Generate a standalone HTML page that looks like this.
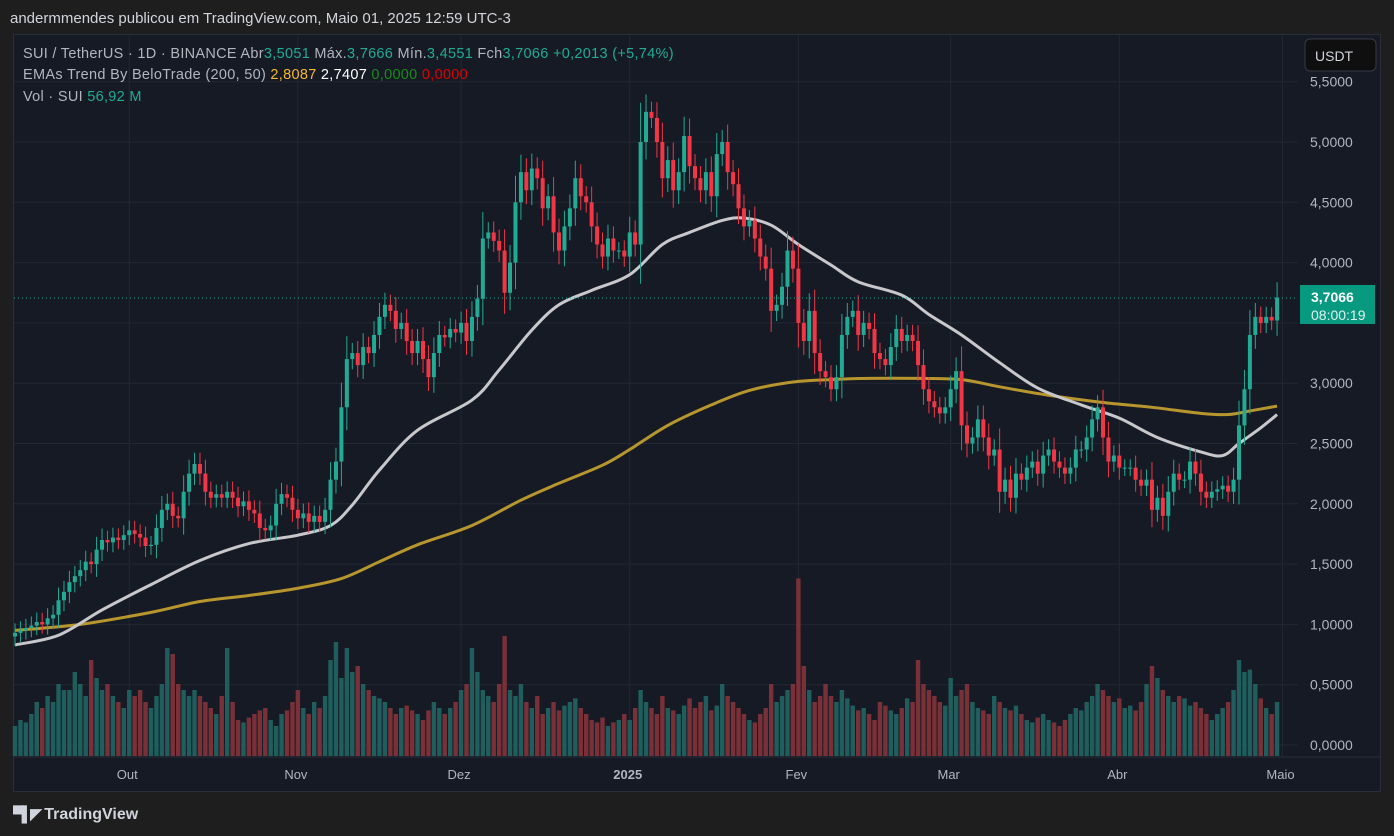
<!DOCTYPE html>
<html><head><meta charset="utf-8">
<style>
html,body{margin:0;padding:0;background:#1e1e1e;width:1394px;height:836px;overflow:hidden;font-family:"Liberation Sans",sans-serif;}
#hdr{position:absolute;left:10px;top:10px;color:#d1d4dc;font-size:15px;}
#panel{position:absolute;left:13px;top:34px;width:1368px;height:758px;background:#161a25;border:1px solid #2a2e39;box-sizing:border-box;}
#foot{position:absolute;left:13px;top:805px;color:#d1d4dc;font-size:16px;font-weight:bold;}
svg text{font-family:"Liberation Sans",sans-serif;}
</style></head><body>
<div id="hdr">andermmendes publicou em TradingView.com, Maio 01, 2025 12:59 UTC-3</div>
<div id="panel"></div>
<svg id="chart" width="1394" height="836" style="position:absolute;left:0;top:0"></svg>
<div id="foot"><span style="font-size:15px;letter-spacing:-2px">▀▌◤</span> TradingView</div>
<script>
const closes=[0.93,0.95,0.97,0.99,1.02,1.00,1.05,1.08,1.20,1.27,
1.35,1.40,1.45,1.52,1.50,1.62,1.70,1.68,1.72,1.70,
1.74,1.78,1.75,1.72,1.65,1.66,1.80,1.95,2.00,1.90,
1.88,2.10,2.25,2.33,2.25,2.10,2.05,2.08,2.05,2.10,
2.05,1.98,2.02,1.95,1.92,1.80,1.78,1.82,2.00,2.08,
2.05,1.95,1.88,1.92,1.85,1.90,1.85,1.95,2.20,2.35,
2.80,3.20,3.25,3.15,3.30,3.25,3.40,3.55,3.65,3.60,
3.45,3.50,3.35,3.25,3.35,3.20,3.05,3.25,3.40,3.38,
3.45,3.42,3.50,3.35,3.55,3.70,4.20,4.25,4.18,4.10,
3.75,4.00,4.50,4.75,4.60,4.78,4.70,4.45,4.55,4.25,
4.10,4.30,4.45,4.70,4.55,4.50,4.30,4.15,4.05,4.20,
4.10,4.10,4.05,4.25,4.15,5.00,5.25,5.20,5.00,4.70,
4.85,4.60,4.75,5.05,4.80,4.70,4.60,4.75,4.55,4.90,
5.00,4.75,4.65,4.45,4.30,4.35,4.20,4.05,3.95,3.60,
3.65,3.80,4.10,3.95,3.50,3.35,3.60,3.25,3.10,3.05,
2.95,3.05,3.40,3.55,3.60,3.40,3.50,3.45,3.25,3.20,
3.15,3.30,3.45,3.35,3.40,3.35,3.15,2.95,2.85,2.80,
2.75,2.80,2.95,3.10,2.65,2.50,2.55,2.70,2.55,2.40,
2.45,2.10,2.20,2.05,2.25,2.20,2.30,2.35,2.25,2.40,
2.45,2.35,2.30,2.25,2.30,2.45,2.45,2.55,2.70,2.80,
2.55,2.35,2.40,2.30,2.30,2.30,2.20,2.15,2.20,1.95,
2.05,1.90,2.10,2.25,2.20,2.20,2.35,2.25,2.10,2.05,
2.10,2.12,2.15,2.10,2.20,2.65,2.95,3.40,3.55,3.50,
3.55,3.52,3.71];
const volumes=[25,30,28,35,45,40,50,45,60,55,
55,70,60,50,80,65,55,60,50,45,
40,55,50,55,45,40,50,60,90,85,
60,55,50,55,50,45,40,35,50,90,
45,30,28,32,35,38,40,30,25,35,
38,45,55,40,35,45,40,50,80,95,
65,90,70,75,60,55,50,48,45,40,
35,40,42,38,35,30,38,45,40,35,
40,45,55,60,90,70,55,50,45,60,
100,55,50,60,45,40,50,35,40,45,
38,42,45,48,40,35,30,28,32,25,
28,30,35,30,40,55,45,40,35,50,
40,38,35,42,48,40,45,50,38,42,
60,50,45,40,35,30,28,35,40,60,
45,50,55,60,148,75,55,45,50,60,
50,45,55,48,42,38,40,35,30,45,
42,38,35,40,48,45,80,60,55,50,
45,42,65,50,55,60,45,40,38,35,
50,45,40,38,42,35,30,28,32,35,
30,28,25,30,35,40,38,45,50,60,
55,50,45,48,40,42,38,45,60,75,
65,55,50,45,50,48,42,45,40,35,
30,35,40,45,55,80,70,72,60,48,
40,35,45];
const ema50Idx=[0,8,16,25,34,43,52,58,62,67,74,84,89,95,100,106,113,119,124,130,134,139,144,150,155,163,168,174,181,188,196,203,210,218,222,225,229,232];
const ema50Val=[0.83,0.91,1.12,1.33,1.53,1.67,1.74,1.82,1.99,2.28,2.61,2.86,3.11,3.44,3.65,3.77,3.90,4.15,4.25,4.35,4.37,4.31,4.15,3.98,3.84,3.73,3.57,3.40,3.17,2.96,2.82,2.71,2.55,2.43,2.40,2.50,2.63,2.74];
const ema200Idx=[0,12,25,34,43,52,60,67,74,84,93,100,108,113,120,128,135,143,150,157,166,174,181,190,200,209,218,223,227,232];
const ema200Val=[0.95,1.00,1.10,1.19,1.24,1.30,1.38,1.52,1.66,1.82,2.03,2.17,2.32,2.45,2.65,2.82,2.94,3.01,3.03,3.04,3.04,3.03,2.97,2.90,2.84,2.80,2.75,2.74,2.77,2.81];
const priceTicks=[0,0.5,1,1.5,2,2.5,3,3.5,4,4.5,5,5.5];
const priceTickLabels=["0,0000","0,5000","1,0000","1,5000","2,0000","2,5000","3,0000","3,5000","4,0000","4,5000","5,0000","5,5000"];
const monthIdx=[21,52,82,113,144,172,203,233];
const monthLabels=["Out","Nov","Dez","2025","Fev","Mar","Abr","Maio"];
const lastPrice=3.7066;

const NS="http://www.w3.org/2000/svg";
const svg=document.getElementById('chart');
const xS=i=>15+i*5.44;
const yS=v=>745-v*120.6;
const vS=v=>v*1.2;
function mk(tag,attrs,parent){const e=document.createElementNS(NS,tag);for(const k in attrs)e.setAttribute(k,attrs[k]);(parent||svg).appendChild(e);return e;}
priceTicks.forEach((t,i)=>{
 const g=mk('line',{x1:14,x2:1298,y1:yS(t),y2:yS(t),stroke:'#232733','stroke-width':1});
 
 
 if(t===3.5)return;
 const tx=mk('text',{x:1310,y:yS(t)+5,fill:'#b2b5be','font-size':14});
 tx.textContent=priceTickLabels[i];
 
 
});
monthIdx.forEach((m,i)=>{
 const g=mk('line',{x1:xS(m),x2:xS(m),y1:35,y2:757,stroke:'#232733','stroke-width':1});
 
 
 const tx=mk('text',{x:xS(m)-2,y:779,fill:'#b2b5be','font-size':13,'text-anchor':'middle','font-weight':i===3?'bold':'normal'});
 tx.textContent=monthLabels[i];
 
 
});
mk('line',{x1:14,x2:1380,y1:757,y2:757,stroke:'#2a2e39'});
closes.forEach((c,i)=>{
 const o=i?closes[i-1]:c-0.02;const up=c>=o;
 const h=vS(volumes[i]);
 const r=mk('rect',{x:xS(i)-2.2,y:756-h,width:4.4,height:h,fill:up?'#1f5e5c':'#7a3037'});
 
 
});
function line(idx,val,col,w,name){
 const P=idx.map((d,k)=>[xS(d),yS(val[k])]);
 let d='M'+P[0][0]+','+P[0][1];
 for(let k=0;k<P.length-1;k++){
  const p0=P[k-1]||P[k],p1=P[k],p2=P[k+1],p3=P[k+2]||P[k+1];
  const c1=[p1[0]+(p2[0]-p0[0])/6,p1[1]+(p2[1]-p0[1])/6];
  const c2=[p2[0]-(p3[0]-p1[0])/6,p2[1]-(p3[1]-p1[1])/6];
  d+=' C'+c1.join(',')+' '+c2.join(',')+' '+p2.join(',');
 }
 const p=mk('path',{d:d,fill:'none',stroke:col,'stroke-width':w,'stroke-linejoin':'round'});
 
 
}
line(ema200Idx,ema200Val,'#b8962e',3,'ema-200-line');
line(ema50Idx,ema50Val,'#c8c8cc',3,'ema-50-line');
closes.forEach((c,i)=>{
 const o=i?closes[i-1]:0.9;const up=c>=o;const col=up?'#22ab94':'#f23645';
 const hi=Math.max(o,c)+0.07+Math.abs(c-o)*0.3, lo=Math.min(o,c)-0.07-Math.abs(c-o)*0.3;
 const wk=mk('line',{x1:xS(i),x2:xS(i),y1:yS(hi),y2:yS(lo),stroke:col,'stroke-width':1});
 
 
 const top=yS(Math.max(o,c)),bh=Math.max(1,Math.abs(yS(o)-yS(c)));
 const b=mk('rect',{x:xS(i)-2,y:top,width:4,height:bh,fill:col});
 
 
});
mk('line',{x1:14,x2:1298,y1:yS(lastPrice),y2:yS(lastPrice),stroke:'#22ab94','stroke-dasharray':'1 3'});
const lb=mk('rect',{x:1300,y:yS(lastPrice)-13,width:75,height:39,fill:'#089981'});


const t1=mk('text',{x:1311,y:yS(lastPrice)+4,fill:'#fff','font-size':14,'font-weight':'bold'});t1.textContent='3,7066';
const t2=mk('text',{x:1311,y:yS(lastPrice)+22,fill:'#e0f2ef','font-size':14});t2.textContent='08:00:19';
const ub=mk('rect',{x:1305,y:39,width:71,height:32,rx:5,fill:'#0f0f0f',stroke:'#363a45'});


const ut=mk('text',{x:1315,y:61,fill:'#d1d4dc','font-size':14});ut.textContent='USDT';
function leg(y,parts,name){
 const t=mk('text',{x:23,y:y,'font-size':14.5,'letter-spacing':'0.3'});
 
 
 parts.forEach(p=>{const s=mk('tspan',{fill:p[1]},t);s.textContent=p[0];});
}
leg(58,[["SUI / TetherUS · 1D · BINANCE  Abr","#b2b5be"],["3,5051","#22ab94"],["  Máx.","#b2b5be"],["3,7666","#22ab94"],["  Mín.","#b2b5be"],["3,4551","#22ab94"],["  Fch","#b2b5be"],["3,7066  +0,2013 (+5,74%)","#22ab94"]],'symbol-legend');
leg(79,[["EMAs Trend By BeloTrade (200, 50)  ","#b2b5be"],["2,8087","#f5b82e"],["  2,7407","#ffffff"],["  0,0000","#1b8a1b"],["  0,0000","#e00000"]],'ema-legend');
leg(101,[["Vol · SUI  ","#b2b5be"],["56,92 M","#22ab94"]],'volume-legend');
</script>
</body></html>
